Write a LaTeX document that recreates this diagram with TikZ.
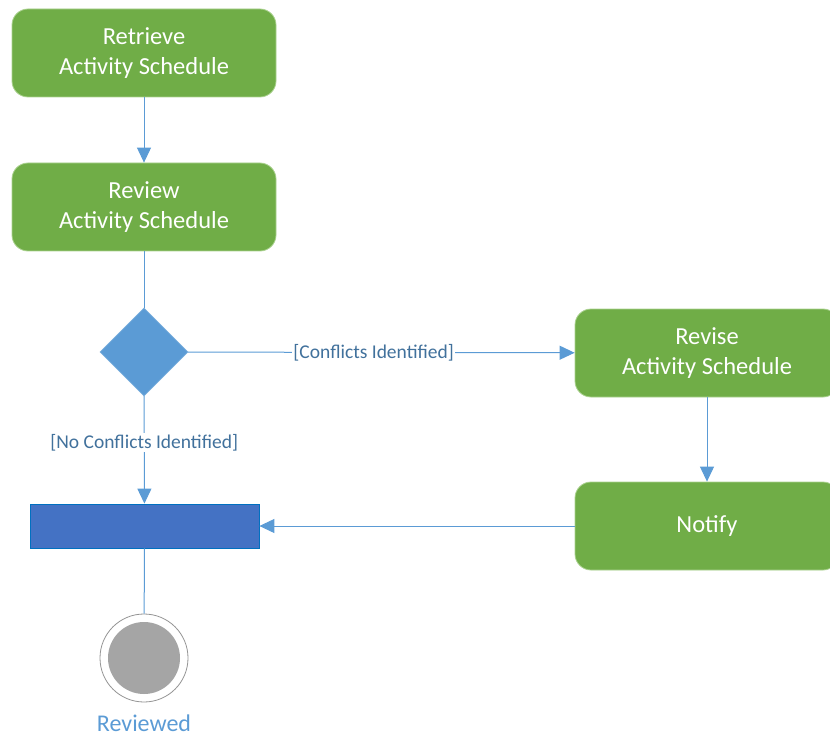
\documentclass[tikz,border=0pt]{standalone}
\usepackage{fontspec}
\setmainfont{Carlito}
\usetikzlibrary{arrows.meta,shapes.geometric}
\definecolor{actgreen}{HTML}{70AD47}
\definecolor{actborder}{HTML}{A9D18E}
\definecolor{linkblue}{HTML}{5B9BD5}
\definecolor{labelblue}{HTML}{41719C}
\definecolor{barblue}{HTML}{4472C4}
\definecolor{barborder}{HTML}{0070C0}
\definecolor{endgray}{HTML}{A5A5A5}
\tikzset{
  activity/.style={rectangle, rounded corners=16pt, fill=actgreen, draw=actborder, line width=0.8pt,
    minimum width=264pt, minimum height=88pt, inner sep=0pt, text=white, align=center,
    font=\fontsize{24.5pt}{29.5pt}\selectfont},
  decision/.style={diamond, aspect=1, fill=linkblue, draw=linkblue!80!white, line width=0.6pt,
    minimum width=88pt, minimum height=88pt, inner sep=0pt},
  joinbar/.style={rectangle, fill=barblue, draw=barborder, line width=0.8pt,
    minimum width=229pt, minimum height=44pt, inner sep=0pt},
  flow/.style={draw=linkblue, line width=1pt},
  flowarrow/.style={flow, -{Triangle[length=15pt,width=14pt]}},
  guard/.style={fill=white, text=labelblue, inner sep=1pt, font=\fontsize{19.5pt}{22pt}\selectfont},
}
\begin{document}
\begin{tikzpicture}[x=1pt,y=-1pt]
\useasboundingbox (0,0) rectangle (830,738);
\node[activity] (retrieve) at (144,53) {Retrieve\\Activity Schedule};
\node[activity] (review) at (144,207) {Review\\Activity Schedule};
\node[decision] (decide) at (144,352) {};
\node[activity] (revise) at (707,353) {Revise\\Activity Schedule};
\node[activity] (notify) at (707,526) {Notify};
\node[joinbar] (bar) at (144.5,526) {};
\node[circle, draw=endgray!90!black, line width=0.8pt, fill=white, minimum size=88pt, inner sep=0pt] (final) at (144,658) {};
\node[circle, fill=endgray, minimum size=72pt, inner sep=0pt] (finalin) at (144,658) {};
\node[text=linkblue, font=\fontsize{24pt}{28pt}\selectfont] (finallabel) at (144,723) {Reviewed};

\draw[flowarrow] (retrieve) -- (review);
\draw[flow] (review) -- (decide);
\draw[flowarrow] (decide) -- node[guard, pos=0.48] {[Conflicts Identified]} (revise);
\draw[flowarrow] (decide) -- node[guard, pos=0.43] {[No Conflicts Identified]} (bar);
\draw[flowarrow] (revise) -- (notify);
\draw[flowarrow] (notify) -- (bar);
\draw[flow] (bar) -- (final);
\end{tikzpicture}
\end{document}
